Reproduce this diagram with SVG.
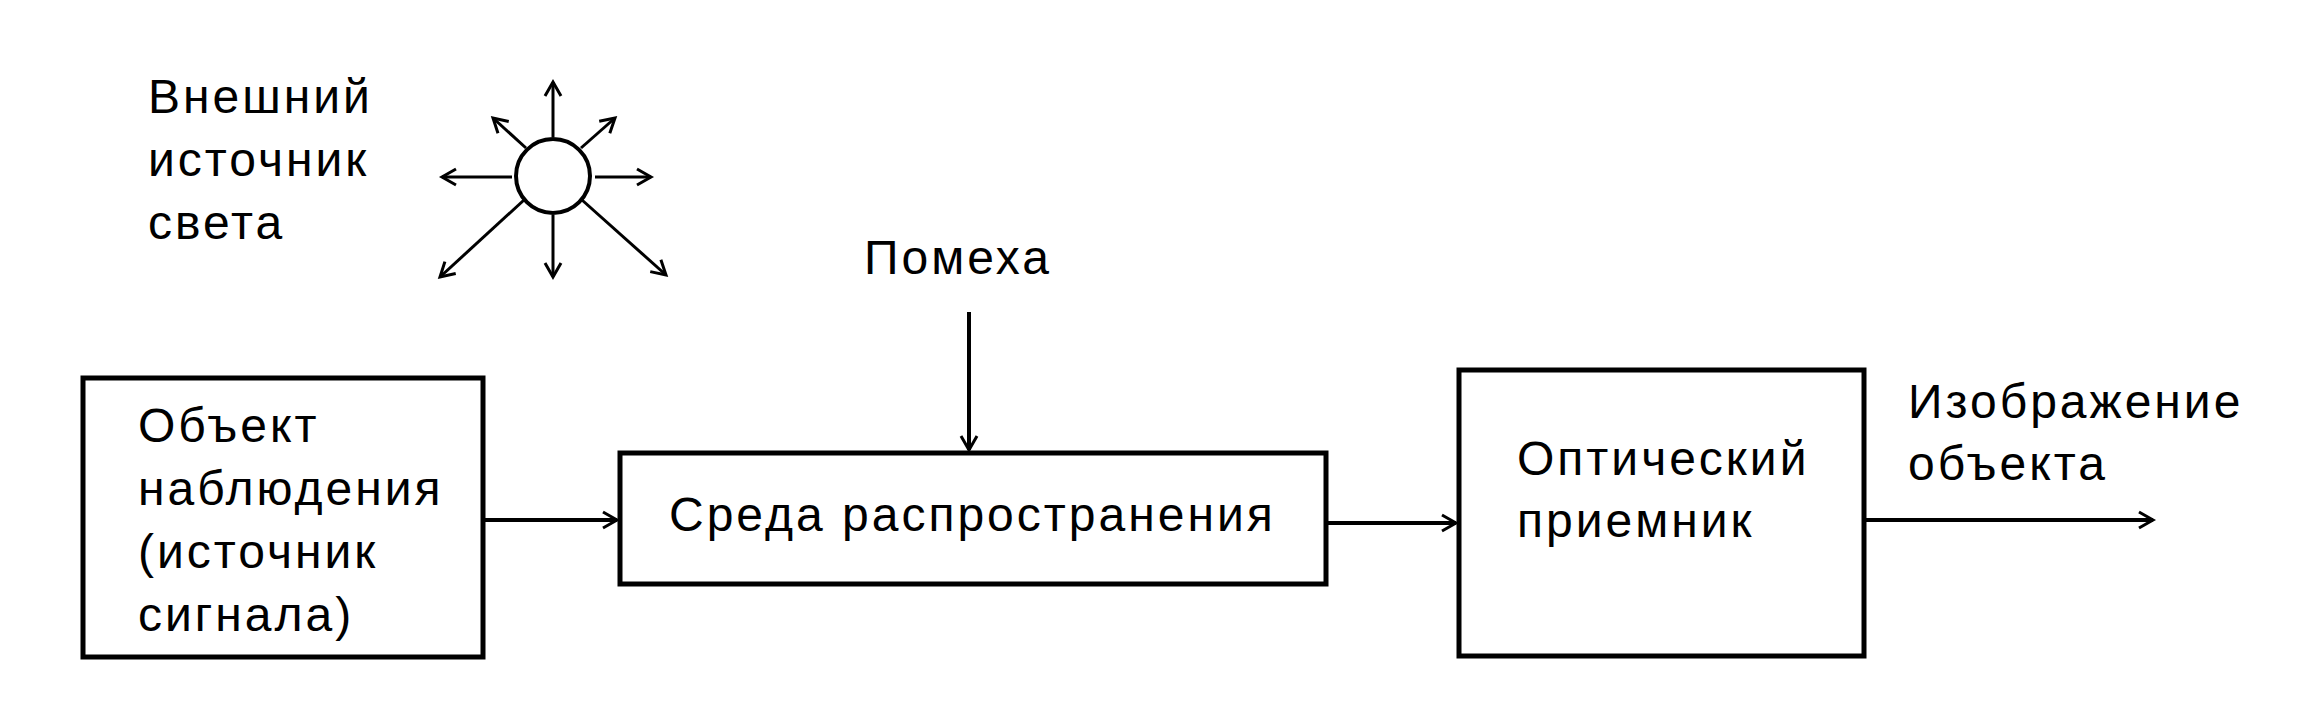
<svg xmlns="http://www.w3.org/2000/svg" width="2320" height="716" viewBox="0 0 2320 716">
<defs>
<style>
text{font-family:"Liberation Sans",Arial,sans-serif;font-size:48px;fill:#000;letter-spacing:3px}
.box{fill:#fff;stroke:#000;stroke-width:5}
.ln{fill:none;stroke:#000;stroke-width:4}
.thin{fill:none;stroke:#000;stroke-width:3}
</style>
<marker id="ah" markerUnits="userSpaceOnUse" markerWidth="20" markerHeight="20" viewBox="-16 -10 20 20" refX="0" refY="0" orient="auto">
<path d="M-14,-8 L0,0 L-14,8" fill="none" stroke="#000" stroke-width="3"/>
</marker>
</defs>
<g id="light-source">
<circle cx="553" cy="176" r="37" class="ln"/>
<g class="thin" marker-end="url(#ah)">
<line x1="553" y1="137" x2="553" y2="82"/>
<line x1="553" y1="215" x2="553" y2="277"/>
<line x1="512" y1="177" x2="442" y2="177"/>
<line x1="595" y1="177" x2="651" y2="177"/>
<line x1="526" y1="148" x2="493" y2="118"/>
<line x1="581" y1="148" x2="615" y2="118"/>
<line x1="524" y1="200" x2="440" y2="277"/>
<line x1="582" y1="200" x2="666" y2="275"/>
</g>
<text x="148" y="113">Внешний</text>
<text x="148" y="176">источник</text>
<text x="148" y="239">света</text>
</g>
<g id="object">
<rect x="83" y="378" width="400" height="279" class="box"/>
<text x="138" y="442">Объект</text>
<text x="138" y="505">наблюдения</text>
<text x="138" y="568">(источник</text>
<text x="138" y="631">сигнала)</text>
</g>
<g id="medium">
<rect x="620" y="453" width="706" height="131" class="box"/>
<text x="669" y="531">Среда распространения</text>
</g>
<g id="receiver">
<rect x="1459" y="370" width="405" height="286" class="box"/>
<text x="1517" y="475">Оптический</text>
<text x="1517" y="537">приемник</text>
</g>
<g id="noise">
<text x="864" y="274">Помеха</text>
</g>
<g id="output-label">
<text x="1908" y="418">Изображение</text>
<text x="1908" y="480">объекта</text>
</g>
<g id="connectors" class="ln" marker-end="url(#ah)">
<line x1="485" y1="520" x2="617" y2="520"/>
<line x1="969" y1="312" x2="969" y2="450"/>
<line x1="1328" y1="523" x2="1456" y2="523"/>
<line x1="1866" y1="520" x2="2153" y2="520"/>
</g>
</svg>
